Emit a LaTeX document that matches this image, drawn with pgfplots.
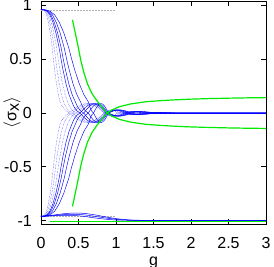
\documentclass[border=0pt]{standalone}
\usepackage{fontspec}
\setmainfont{Liberation Sans}
\usepackage{pgfplots}
\usepackage{pgfplotstable}
\pgfplotsset{compat=1.18}
\definecolor{gblue}{RGB}{0,0,255}
\definecolor{ggreen}{RGB}{0,235,0}
\pgfplotstableread{
g up dn
0 0.96 -0.96
0.0248 0.958 -0.958
0.0495 0.945 -0.945
0.0743 0.91 -0.91
0.099 0.84 -0.84
0.1238 0.74 -0.74
0.1485 0.61 -0.61
0.165 0.50 -0.50
0.1815 0.40 -0.40
0.2063 0.27 -0.27
0.231 0.17 -0.17
0.2558 0.10 -0.10
0.2806 0.065 -0.065
0.3055 0.04 -0.04
0.3365 0.018 -0.018
0.38 0 0
0.4375 -0.0337 0.0337
0.495 -0.0622 0.0622
0.5525 -0.0813 0.0813
0.61 -0.088 0.088
0.6675 -0.0813 0.0813
0.725 -0.0622 0.0622
0.7825 -0.0337 0.0337
0.84 0 0
0.885 0.0212 -0.0212
0.93 0.03 -0.03
0.975 0.0212 -0.0212
1.02 0 0
1.065 -0.0106 0.0106
1.11 -0.015 0.015
1.155 -0.0106 0.0106
1.2 0 0
1.29 0.007 -0.007
1.38 0 0
3 0 0
}\tA
\pgfplotstableread{
g up dn
0 0.96 -0.96
0.0293 0.958 -0.958
0.0585 0.945 -0.945
0.0878 0.91 -0.91
0.117 0.84 -0.84
0.1463 0.74 -0.74
0.1755 0.61 -0.61
0.195 0.50 -0.50
0.2145 0.40 -0.40
0.2438 0.27 -0.27
0.273 0.17 -0.17
0.3023 0.10 -0.10
0.3258 0.065 -0.065
0.3494 0.04 -0.04
0.3788 0.018 -0.018
0.42 0 0
0.4738 -0.0337 0.0337
0.5275 -0.0622 0.0622
0.5813 -0.0813 0.0813
0.635 -0.088 0.088
0.6888 -0.0813 0.0813
0.7425 -0.0622 0.0622
0.7963 -0.0337 0.0337
0.85 0 0
0.9 0.0212 -0.0212
0.95 0.03 -0.03
1.0 0.0212 -0.0212
1.05 0 0
1.1 -0.0106 0.0106
1.15 -0.015 0.015
1.2 -0.0106 0.0106
1.25 0 0
1.35 0.007 -0.007
1.45 0 0
3 0 0
}\tB
\pgfplotstableread{
g up dn
0 0.96 -0.96
0.0345 0.958 -0.958
0.069 0.945 -0.945
0.1035 0.91 -0.91
0.138 0.84 -0.84
0.1725 0.74 -0.74
0.207 0.61 -0.61
0.23 0.50 -0.50
0.253 0.40 -0.40
0.2875 0.27 -0.27
0.322 0.17 -0.17
0.3565 0.10 -0.10
0.3792 0.065 -0.065
0.4019 0.04 -0.04
0.4303 0.018 -0.018
0.47 0 0
0.5188 -0.0337 0.0337
0.5675 -0.0622 0.0622
0.6163 -0.0813 0.0813
0.665 -0.088 0.088
0.7138 -0.0813 0.0813
0.7625 -0.0622 0.0622
0.8113 -0.0337 0.0337
0.86 0 0
0.915 0.0212 -0.0212
0.97 0.03 -0.03
1.025 0.0212 -0.0212
1.08 0 0
1.135 -0.0106 0.0106
1.19 -0.015 0.015
1.245 -0.0106 0.0106
1.3 0 0
1.41 0.007 -0.007
1.52 0 0
3 0 0
}\tC
\pgfplotstableread{
g up dn
0 0.96 -0.96
0.04 0.958 -0.958
0.08 0.945 -0.945
0.1202 0.91 -0.91
0.1602 0.84 -0.84
0.2003 0.74 -0.74
0.2403 0.61 -0.61
0.267 0.50 -0.50
0.2937 0.40 -0.40
0.3338 0.27 -0.27
0.3738 0.17 -0.17
0.4139 0.10 -0.10
0.4351 0.065 -0.065
0.4563 0.04 -0.04
0.4829 0.018 -0.018
0.52 0 0
0.5638 -0.0337 0.0337
0.6075 -0.0622 0.0622
0.6513 -0.0813 0.0813
0.695 -0.088 0.088
0.7388 -0.0813 0.0813
0.7825 -0.0622 0.0622
0.8263 -0.0337 0.0337
0.87 0 0
0.93 0.0212 -0.0212
0.99 0.03 -0.03
1.05 0.0212 -0.0212
1.11 0 0
1.17 -0.0106 0.0106
1.23 -0.015 0.015
1.29 -0.0106 0.0106
1.35 0 0
1.47 0.007 -0.007
1.59 0 0
3 0 0
}\tD
\pgfplotstableread{
g up dn
0 0.96 -0.96
0.0446 0.958 -0.958
0.0891 0.945 -0.945
0.1337 0.91 -0.91
0.1782 0.84 -0.84
0.2228 0.74 -0.74
0.2673 0.61 -0.61
0.297 0.50 -0.50
0.3267 0.40 -0.40
0.3713 0.27 -0.27
0.4158 0.17 -0.17
0.4604 0.10 -0.10
0.4823 0.065 -0.065
0.5042 0.04 -0.04
0.5316 0.018 -0.018
0.57 0 0
0.6088 -0.0337 0.0337
0.6475 -0.0622 0.0622
0.6863 -0.0813 0.0813
0.725 -0.088 0.088
0.7638 -0.0813 0.0813
0.8025 -0.0622 0.0622
0.8413 -0.0337 0.0337
0.88 0 0
0.945 0.0212 -0.0212
1.01 0.03 -0.03
1.075 0.0212 -0.0212
1.14 0 0
1.205 -0.0106 0.0106
1.27 -0.015 0.015
1.335 -0.0106 0.0106
1.4 0 0
1.53 0.007 -0.007
1.66 0 0
3 0 0
}\tE
\pgfplotstableread{
g up dn
0 0.96 -0.96
0.0513 0.958 -0.958
0.1026 0.945 -0.945
0.1539 0.91 -0.91
0.2052 0.84 -0.84
0.2565 0.74 -0.74
0.3078 0.61 -0.61
0.342 0.50 -0.50
0.3762 0.40 -0.40
0.4275 0.27 -0.27
0.4788 0.17 -0.17
0.5301 0.10 -0.10
0.55 0.065 -0.065
0.57 0.04 -0.04
0.595 0.018 -0.018
0.63 0 0
0.6625 -0.0337 0.0337
0.695 -0.0622 0.0622
0.7275 -0.0813 0.0813
0.76 -0.088 0.088
0.7925 -0.0813 0.0813
0.825 -0.0622 0.0622
0.8575 -0.0337 0.0337
0.89 0 0
0.96 0.0212 -0.0212
1.03 0.03 -0.03
1.1 0.0212 -0.0212
1.17 0 0
1.24 -0.0106 0.0106
1.31 -0.015 0.015
1.38 -0.0106 0.0106
1.45 0 0
1.59 0.007 -0.007
1.73 0 0
3 0 0
}\tF
\pgfplotstableread{
g up dn
0 0.96 -0.96
0.0614 0.958 -0.958
0.1227 0.945 -0.945
0.1841 0.91 -0.91
0.2454 0.84 -0.84
0.3068 0.74 -0.74
0.3681 0.61 -0.61
0.409 0.50 -0.50
0.4499 0.40 -0.40
0.5113 0.27 -0.27
0.5726 0.17 -0.17
0.634 0.10 -0.10
0.6472 0.065 -0.065
0.6604 0.04 -0.04
0.6769 0.018 -0.018
0.70 0 0
0.725 -0.0337 0.0337
0.75 -0.0622 0.0622
0.775 -0.0813 0.0813
0.8 -0.088 0.088
0.825 -0.0813 0.0813
0.85 -0.0622 0.0622
0.875 -0.0337 0.0337
0.9 0 0
0.975 0.0212 -0.0212
1.05 0.03 -0.03
1.125 0.0212 -0.0212
1.2 0 0
1.275 -0.0106 0.0106
1.35 -0.015 0.015
1.425 -0.0106 0.0106
1.5 0 0
1.65 0.007 -0.007
1.8 0 0
3 0 0
}\tG
\pgfplotstableread{
g up dn
0.42 0.865 -0.867
0.44 0.80 -0.80
0.47 0.70 -0.70
0.50 0.60 -0.60
0.53 0.49 -0.49
0.57 0.38 -0.38
0.62 0.27 -0.27
0.68 0.18 -0.18
0.75 0.11 -0.11
0.82 0.05 -0.05
0.88 0.0 0.0
0.95 -0.03 0.03
1.05 -0.06 0.06
1.2 -0.085 0.085
1.4 -0.105 0.105
1.6 -0.115 0.115
1.8 -0.123 0.123
2.0 -0.129 0.129
2.25 -0.134 0.134
2.5 -0.138 0.138
2.75 -0.141 0.141
3.0 -0.143 0.143
}\tGreen
\begin{document}
\begin{tikzpicture}
\begin{axis}[
  scale only axis, width=225pt, height=223pt,
  xmin=0, xmax=3, ymin=-1.03, ymax=1.04,
  xtick={0,0.5,1,1.5,2,2.5,3}, xticklabels={0,0.5,1,1.5,2,2.5,3},
  ytick={-1,-0.5,0,0.5,1}, yticklabels={-1,-0.5,0,0.5,1},
  tick align=inside, tick pos=both, major tick length=5pt,
  every tick/.style={black, line width=0.8pt},
  axis line style={line width=0.8pt},
  tick label style={font=\fontsize{16}{19}\selectfont, inner sep=0pt},
  yticklabel style={anchor=east, xshift=-9pt},
  xticklabel style={anchor=north, yshift=-13pt},
  xlabel={g},
  ylabel={$\langle$σ$_{\textrm{x}}\rangle$},
  xlabel style={font=\fontsize{16}{19}\selectfont, at={(axis description cs:0.5,-0.145)}, anchor=north, inner sep=0pt},
  ylabel style={font=\fontsize{16}{19}\selectfont, at={(axis description cs:-0.129,0.5)}, anchor=center, inner sep=0pt},
  clip=true,
]
\addplot[gray!60, densely dotted, line width=0.5pt] coordinates {(0,0.955) (1,0.955)};
\addplot[gray!60, densely dotted, line width=0.5pt] coordinates {(0,-0.955) (1,-0.955)};
\addplot[gblue!80, densely dotted, line width=0.45pt] table[x=g,y=up] {\tA};
\addplot[gblue!80, densely dotted, line width=0.45pt] table[x=g,y=dn] {\tA};
\addplot[gblue!80, densely dotted, line width=0.45pt] table[x=g,y=up] {\tB};
\addplot[gblue!80, densely dotted, line width=0.45pt] table[x=g,y=dn] {\tB};
\addplot[gblue!80, densely dotted, line width=0.45pt] table[x=g,y=up] {\tC};
\addplot[gblue!80, densely dotted, line width=0.45pt] table[x=g,y=dn] {\tC};
\addplot[gblue, line width=0.45pt] table[x=g,y=up] {\tD};
\addplot[gblue, line width=0.45pt] table[x=g,y=dn] {\tD};
\addplot[gblue, line width=0.45pt] table[x=g,y=up] {\tE};
\addplot[gblue, line width=0.45pt] table[x=g,y=dn] {\tE};
\addplot[gblue, line width=0.45pt] table[x=g,y=up] {\tF};
\addplot[gblue, line width=0.45pt] table[x=g,y=dn] {\tF};
\addplot[gblue, line width=0.45pt] table[x=g,y=up] {\tG};
\addplot[gblue, line width=0.45pt] table[x=g,y=dn] {\tG};
\addplot[gblue, line width=0.5pt] coordinates {(0,-0.957) (0.1,-0.953) (0.2,-0.944) (0.3,-0.935) (0.4,-0.929) (0.5,-0.928) (0.6,-0.933) (0.7,-0.943) (0.8,-0.956) (0.9,-0.969) (1.0,-0.98) (1.1,-0.988) (1.2,-0.993) (1.35,-0.996) (1.5,-0.997) (3,-0.997)};
\addplot[gblue, line width=0.5pt] coordinates {(0,-0.957) (0.1,-0.955) (0.2,-0.949) (0.3,-0.943) (0.4,-0.94) (0.5,-0.941) (0.6,-0.947) (0.7,-0.957) (0.8,-0.968) (0.9,-0.978) (1.0,-0.986) (1.1,-0.992) (1.25,-0.996) (1.5,-0.997) (3,-0.997)};
\addplot[gblue, line width=0.5pt] coordinates {(0,-0.957) (0.1,-0.956) (0.2,-0.953) (0.3,-0.95) (0.4,-0.95) (0.5,-0.954) (0.6,-0.962) (0.7,-0.972) (0.8,-0.981) (0.9,-0.988) (1.0,-0.993) (1.2,-0.996) (1.5,-0.997) (3,-0.997)};
\addplot[ggreen, line width=1.2pt] table[x=g,y=up] {\tGreen};
\addplot[ggreen, line width=1.2pt] table[x=g,y=dn] {\tGreen};
\addplot[ggreen, line width=1.2pt] coordinates {(0.12,-1.006) (3,-1.006)};
\end{axis}
\pgfresetboundingbox
\path ([shift={(-41pt,-43pt)}]current axis.south west) rectangle ([shift={(8pt,1pt)}]current axis.north east);
\end{tikzpicture}
\end{document}
